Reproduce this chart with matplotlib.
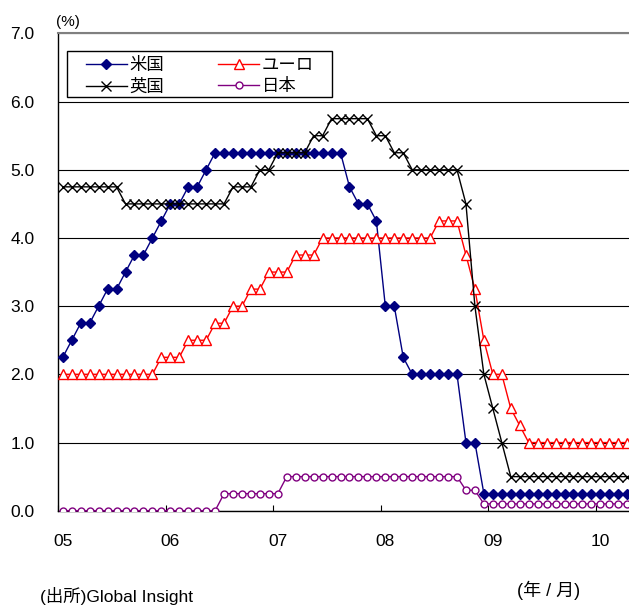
import matplotlib
matplotlib.use("Agg")
import matplotlib.pyplot as plt
from matplotlib.patches import Rectangle
import numpy as np

plt.rcParams['font.family'] = ['Liberation Sans', 'Noto Sans CJK JP', 'DejaVu Sans']

# 政策金利 月末値 2005年1月～2010年4月 (64か月)
beikoku = ([2.25, 2.5, 2.75, 2.75, 3.0, 3.25, 3.25, 3.5, 3.75, 3.75, 4.0, 4.25]
           + [4.5, 4.5, 4.75, 4.75, 5.0] + [5.25] * 7
           + [5.25] * 8 + [4.75, 4.5, 4.5, 4.25]
           + [3.0, 3.0, 2.25] + [2.0] * 6 + [1.0, 1.0, 0.25]
           + [0.25] * 12
           + [0.25] * 4)

euro = ([2.0] * 11 + [2.25]
        + [2.25, 2.25, 2.5, 2.5, 2.5, 2.75, 2.75, 3.0, 3.0, 3.25, 3.25, 3.5]
        + [3.5, 3.5, 3.75, 3.75, 3.75] + [4.0] * 7
        + [4.0] * 6 + [4.25, 4.25, 4.25, 3.75, 3.25, 2.5]
        + [2.0, 2.0, 1.5, 1.25] + [1.0] * 8
        + [1.0] * 4)

eikoku = ([4.75] * 7 + [4.5] * 5
          + [4.5] * 7 + [4.75, 4.75, 4.75, 5.0, 5.0]
          + [5.25] * 4 + [5.5, 5.5] + [5.75] * 5 + [5.5]
          + [5.5, 5.25, 5.25] + [5.0] * 6 + [4.5, 3.0, 2.0]
          + [1.5, 1.0] + [0.5] * 10
          + [0.5] * 4)

nihon = ([0.0] * 12
         + [0.0] * 6 + [0.25] * 6
         + [0.25] + [0.5] * 11
         + [0.5] * 9 + [0.3, 0.3, 0.1]
         + [0.1] * 12
         + [0.1] * 4)

nen_labels = ['05', '06', '07', '08', '09', '10']

x = np.arange(len(beikoku)) + 0.5  # 月の中央に点を置く

fig = plt.figure(figsize=(6.29, 6.08), dpi=100)
ax = fig.add_axes([0.0927, 0.16, 0.9116, 0.785])

ax.plot(x, beikoku, color='#000080', lw=1, marker='D', ms=5.5,
        mfc='#000080', mec='#000080', label='米国', zorder=3)
ax.plot(x, euro, color='#FF0000', lw=1, marker='^', ms=7.5,
        mfc='white', mec='#FF0000', mew=1, label='ユーロ', zorder=3)
ax.plot(x, eikoku, color='black', lw=1, marker='x', ms=7, mew=1,
        label='英国', zorder=3)
ax.plot(x, nihon, color='#800080', lw=1, marker='o', ms=5,
        mfc='white', mec='#800080', mew=1, label='日本', zorder=3)

ax.set_xlim(0, 64)
ax.set_ylim(0, 7)

# 年の区切りに目盛り、ラベルは1月の位置
ax.set_xticks(np.arange(len(nen_labels)) * 12 + 0.5)
ax.set_xticklabels(nen_labels, fontsize=12.5)
ax.set_xticks(np.arange(len(nen_labels)) * 12, minor=True)
ax.tick_params(axis='x', which='major', length=0, pad=17)
ax.tick_params(axis='x', which='minor', direction='in', length=4.5, width=0.8)

ax.set_yticks(np.arange(0, 8))
ax.set_yticklabels([f"{v:.1f}" for v in range(0, 8)], fontsize=12.5)
ax.tick_params(axis='y', length=0, pad=17)

ax.yaxis.grid(True, color='black', lw=0.8)
ax.set_axisbelow(True)
for s in ['left', 'bottom']:
    ax.spines[s].set_color('black')
    ax.spines[s].set_linewidth(1)
ax.spines['top'].set_color('#808080')
ax.spines['top'].set_linewidth(1.5)
ax.spines['right'].set_visible(False)

# 凡例の枠
ax.add_patch(Rectangle((0.0146, 0.8663), 0.4622, 0.097, transform=ax.transAxes,
                       facecolor='white', edgecolor='black', lw=1, zorder=4))
h, l = ax.get_legend_handles_labels()
order = [0, 2, 1, 3]
leg = ax.legend([h[i] for i in order], [l[i] for i in order], ncol=2,
                loc='center', bbox_to_anchor=(0.247, 0.911), frameon=False,
                fontsize=12.5, handlelength=2.36, handletextpad=0.15,
                columnspacing=3.1, labelspacing=0.3, borderpad=0)
leg.set_zorder(5)

fig.text(68 / 629, 1 - 22 / 608, '(%)', fontsize=11, ha='center', va='center')
fig.text(40 / 629, 1 - 596 / 608, '(出所)Global Insight', fontsize=12.5, ha='left', va='center')
fig.text(549 / 629, 1 - 590 / 608, '(年 / 月)', fontsize=13, ha='center', va='center')

fig.savefig('out.png', dpi=100)
